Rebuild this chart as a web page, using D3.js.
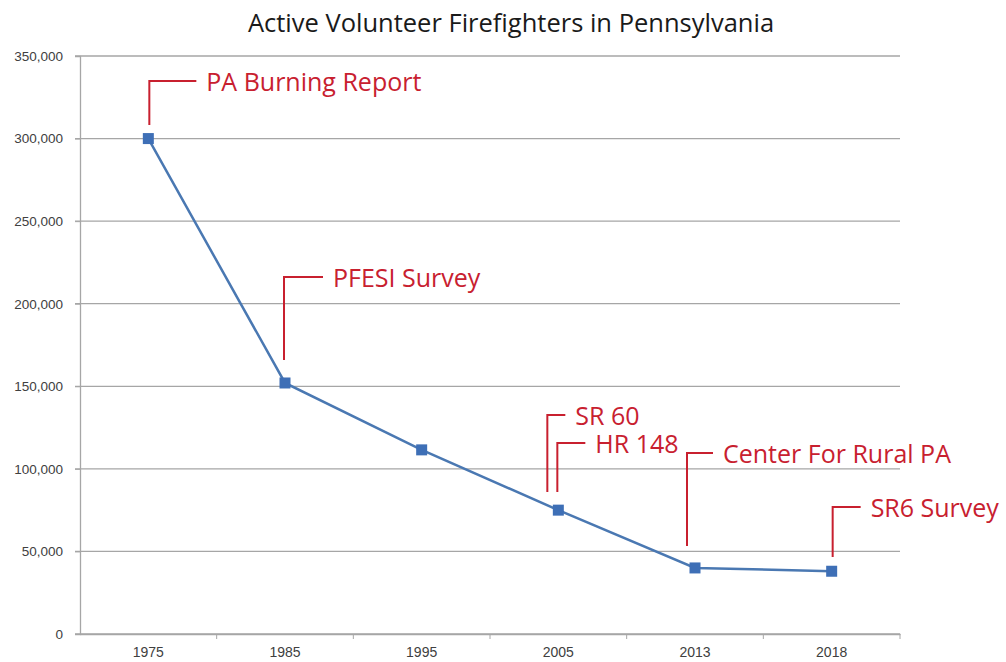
<!DOCTYPE html>
<html>
<head>
<meta charset="utf-8">
<script src="https://cdn.jsdelivr.net/npm/d3@7"></script>
<style>
  body { margin: 0; background: #fff; }
  svg { font-family: "Open Sans", "Noto Sans", sans-serif; }
</style>
</head>
<body>
<div id="chart"></div>
<script>
// data
var years = ["1975", "1985", "1995", "2005", "2013", "2018"];
var firefighters = [300000, 152000, 111500, 75000, 40000, 38000];
var yTicks = [0, 50000, 100000, 150000, 200000, 250000, 300000, 350000];

// callouts: label and the year they point at
var noteLabels = ["PA Burning Report", "PFESI Survey", "SR 60", "HR 148", "Center For Rural PA", "SR6 Survey"];
var noteYears = ["1975", "1985", "2005", "2005", "2013", "2018"];

// callout layout (px): x shift of leader, leader top, leader bottom, elbow length
var noteLayout = [
  {dx: 1, top: 81, bottom: 125, arm: 47},
  {dx: -1, top: 277, bottom: 360, arm: 39},
  {dx: -11, top: 415, bottom: 492, arm: 18},
  {dx: -1, top: 443, bottom: 492, arm: 28},
  {dx: -8, top: 453, bottom: 546, arm: 26},
  {dx: 1, top: 507, bottom: 557, arm: 28}
];

var W = 1006, H = 662;
var margin = {top: 56, right: 106, bottom: 28, left: 80},
  width = W - margin.left - margin.right,
  height = H - margin.top - margin.bottom;

var svg = d3.select("#chart")
  .append("svg")
    .attr("width", W)
    .attr("height", H);

// title
svg.append("text")
  .attr("x", 511)
  .attr("y", 32)
  .attr("text-anchor", "middle")
  .style("font-size", "25.5px")
  .style("fill", "#1a1a1a")
  .text("Active Volunteer Firefighters in Pennsylvania");

var g = svg.append("g")
  .attr("transform", "translate(" + margin.left + "," + margin.top + ")");

var x = d3.scaleBand()
  .domain(years)
  .range([0, width]);

var y = d3.scaleLinear()
  .domain([0, 350000])
  .range([height, 0]);

// gridlines
g.append("g")
  .selectAll("line")
  .data(yTicks)
  .enter()
  .append("line")
    .attr("x1", -5)
    .attr("x2", width)
    .attr("y1", function(d) { return y(d); })
    .attr("y2", function(d) { return y(d); })
    .attr("stroke", "#a6a6a6")
    .attr("stroke-width", 1.3);

// y axis
var yAxis = g.append("g")
  .call(d3.axisLeft(y)
    .tickValues(yTicks)
    .tickSize(5)
    .tickPadding(12)
    .tickFormat(d3.format(",")));
yAxis.select(".domain").attr("stroke", "#a6a6a6").attr("stroke-width", 1.3);
yAxis.selectAll(".tick line").attr("stroke", "#a6a6a6");
yAxis.selectAll("text").style("font-size", "13.5px").style("fill", "#404040");

// x axis
var xAxis = g.append("g")
  .attr("transform", "translate(0," + height + ")")
  .call(d3.axisBottom(x).tickSize(0).tickPadding(13));
xAxis.select(".domain").attr("stroke", "#a6a6a6").attr("stroke-width", 1.3);
xAxis.selectAll("text").style("font-size", "14px").style("fill", "#404040");

// tick marks between categories
g.append("g")
  .selectAll("line")
  .data(years)
  .enter()
  .append("line")
    .attr("x1", function(d) { return x(d) + x.bandwidth(); })
    .attr("x2", function(d) { return x(d) + x.bandwidth(); })
    .attr("y1", height)
    .attr("y2", height + 5)
    .attr("stroke", "#a6a6a6");

var points = years.map(function(yr, i) { return {year: yr, value: firefighters[i]}; });
var cx = function(d) { return x(d.year) + x.bandwidth() / 2; };

// series line
g.append("path")
  .datum(points)
  .attr("fill", "none")
  .attr("stroke", "#4a78b2")
  .attr("stroke-width", 2.5)
  .attr("d", d3.line()
    .x(cx)
    .y(function(d) { return y(d.value); }));

// markers
g.selectAll("rect.marker")
  .data(points)
  .enter()
  .append("rect")
    .attr("class", "marker")
    .attr("x", function(d) { return cx(d) - 5.5; })
    .attr("y", function(d) { return y(d.value) - 5.5; })
    .attr("width", 11)
    .attr("height", 11)
    .attr("fill", "#3e6fb6");

// callouts
var red = "#c8202f";
noteLabels.forEach(function(label, i) {
  var L = noteLayout[i];
  var lx = x(noteYears[i]) + x.bandwidth() / 2 + L.dx;
  var top = L.top - margin.top, bottom = L.bottom - margin.top;
  g.append("path")
    .attr("d", "M" + lx + "," + bottom + "V" + top + "H" + (lx + L.arm))
    .attr("fill", "none")
    .attr("stroke", red)
    .attr("stroke-width", 2);
  g.append("text")
    .attr("x", lx + L.arm + 10)
    .attr("y", top + 10)
    .style("font-size", "25px")
    .style("fill", red)
    .text(label);
});
</script>
</body>
</html>
